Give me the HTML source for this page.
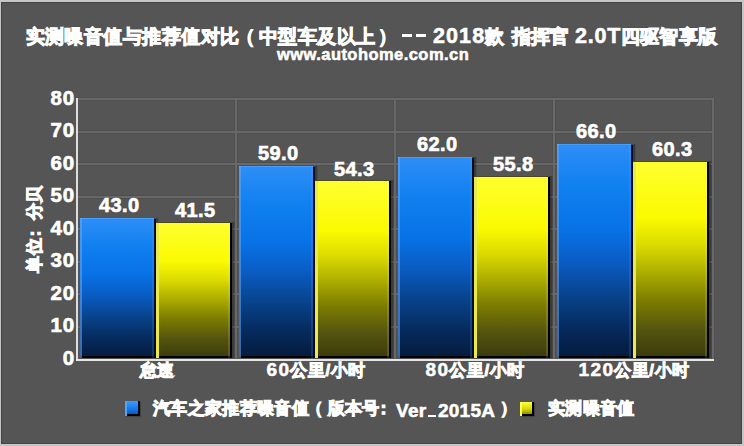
<!DOCTYPE html>
<html><head><meta charset="utf-8">
<style>
*{margin:0;padding:0;box-sizing:border-box}
html,body{width:744px;height:446px;overflow:hidden;background:#c6c6c6}
body{position:relative;font-family:"Liberation Sans",sans-serif;font-weight:bold;color:#fff}
.t,.yl,.val,.xl,#ytitle{text-shadow:0 0 1.5px rgba(0,0,0,.35)}
#panel{position:absolute;left:1px;top:2px;width:741px;height:442px;background:#555;
  box-shadow:inset 1px 1px 0 #444, inset -1px -1px 0 #444}
.t{position:absolute;white-space:nowrap;line-height:1;transform-origin:0 0}
.c{-webkit-text-stroke:1.05px #fff}
.l17{font-size:16.6px;letter-spacing:0.35px}
.c19{font-size:18.6px;letter-spacing:0.45px}
.dash{position:absolute;background:#fff;height:3px;top:34px;width:10px}
.gl{position:absolute;background:#686868}
.h{left:78px;width:635px;height:2px}
.v{top:98px;width:2px;height:261px}
.gs{position:absolute;background:#4f4f4f}
#yaxis{position:absolute;left:76px;top:98px;width:2px;height:263px;background:#dcdcdc}
#xaxis{position:absolute;left:76px;top:359px;width:638px;height:2px;background:#e6e6e6}
.yl{position:absolute;font-size:20.5px;left:0;width:75px;text-align:right;line-height:1;letter-spacing:0.8px;-webkit-text-stroke:0.7px #fff}
.bar{position:absolute;bottom:88px}
.b{background:linear-gradient(to bottom,#2e8ef6 0%,#1080f0 20%,#0872e6 40%,#0a5cc4 55%,#08448e 70%,#062c60 85%,#041a3c 100%);
  box-shadow:inset 0 1px 0 rgba(120,190,255,.35), inset 2px 0 0 rgba(100,170,255,.55), inset -2px 0 0 #020a20, inset -4px 0 0 rgba(90,170,255,.18), inset 0 -2px 0 #000, 2px 0 0 rgba(0,0,0,.22), 3px 0 0 rgba(0,0,0,.1)}
.y{background:linear-gradient(to bottom,#ffff30 0%,#fafa00 29%,#dada00 43%,#acac00 57%,#7c7c00 71%,#545410 86%,#3a3a0c 100%);
  box-shadow:inset 0 1px 0 #4a4a20, inset 3px 0 0 #eaea50, inset -2px 0 0 #000, inset -4px 0 0 rgba(255,255,120,.14), inset 0 -2px 0 #000, 2px 0 0 rgba(0,0,0,.22), 3px 0 0 rgba(0,0,0,.1)}
.val{position:absolute;font-size:20px;letter-spacing:0.4px;text-indent:0.4px;text-align:center;width:80px;line-height:1;-webkit-text-stroke:0.7px #fff}
.d{font-size:19px;letter-spacing:1.4px;-webkit-text-stroke:0.6px #fff;line-height:1px}
.xl{position:absolute;top:363px;font-size:16.8px;letter-spacing:0.5px;text-align:center;width:158px;line-height:1}
#ytitle{position:absolute;left:35.3px;top:229.2px;font-size:16.7px;letter-spacing:0.4px;transform:translate(-50%,-50%) rotate(-90deg);white-space:nowrap;line-height:1}
.lg{position:absolute;top:401px;width:15px;height:15px}
.lgb{background:linear-gradient(to bottom,#3a9cff 0%,#1a7ae8 50%,#0a4cb0 100%);box-shadow:inset 2px 0 0 #4aa6ff,inset -2px 0 0 #000820,inset 0 -2px 0 #000,1px 1px 1px rgba(0,0,0,.2)}
.lgy{background:linear-gradient(to bottom,#ffff40 0%,#d8d800 50%,#707000 100%);box-shadow:inset 2px 0 0 #ffff50,inset -2px 0 0 #000,inset 0 -2px 0 #000,1px 1px 1px rgba(0,0,0,.2)}
</style></head><body>
<div id="panel"></div>
<!-- title -->
<div class="t c c19" style="left:25.5px;top:27.5px">实测噪音值与推荐值对比</div>
<div class="t c c19" style="left:236.2px;top:27.5px">（</div>
<div class="t c c19" style="left:258.9px;top:27.5px">中型车及以上</div>
<div class="t c c19" style="left:377.8px;top:27.5px">）</div>
<div class="dash" style="left:401.7px"></div>
<div class="dash" style="left:415.7px"></div>
<div class="t" style="left:433px;top:26px;font-size:21.5px;letter-spacing:1.1px;-webkit-text-stroke:0.6px #fff">2018</div>
<div class="t c c19" style="left:485px;top:27.5px">款</div>
<div class="t c c19" style="left:511.5px;top:27.5px">指挥官</div>
<div class="t" style="left:575px;top:26px;font-size:21.5px;letter-spacing:0.8px;-webkit-text-stroke:0.6px #fff">2.0T</div>
<div class="t c c19" style="left:620.5px;top:27.5px">四驱智享版</div>
<div class="t" style="left:277px;top:46px;font-size:16.5px;letter-spacing:0.45px;-webkit-text-stroke:0.6px #fff">www.autohome.com.cn</div>

<div class="gs" style="left:78px;width:635px;top:97px;height:4px"></div>
<div class="gs" style="left:78px;width:635px;top:130px;height:4px"></div>
<div class="gs" style="left:78px;width:635px;top:162px;height:4px"></div>
<div class="gs" style="left:78px;width:635px;top:195px;height:4px"></div>
<div class="gs" style="left:78px;width:635px;top:227px;height:4px"></div>
<div class="gs" style="left:78px;width:635px;top:260px;height:4px"></div>
<div class="gs" style="left:78px;width:635px;top:292px;height:4px"></div>
<div class="gs" style="left:78px;width:635px;top:325px;height:4px"></div>
<div class="gs" style="top:98px;height:261px;left:234px;width:4px"></div>
<div class="gs" style="top:98px;height:261px;left:393px;width:4px"></div>
<div class="gs" style="top:98px;height:261px;left:552px;width:4px"></div>
<div class="gs" style="top:98px;height:261px;left:711px;width:4px"></div>
<div class="gl h" style="top:98px"></div>
<div class="gl h" style="top:131px"></div>
<div class="gl h" style="top:163px"></div>
<div class="gl h" style="top:196px"></div>
<div class="gl h" style="top:228px"></div>
<div class="gl h" style="top:261px"></div>
<div class="gl h" style="top:293px"></div>
<div class="gl h" style="top:326px"></div>
<div class="gl v" style="left:235px"></div>
<div class="gl v" style="left:394px"></div>
<div class="gl v" style="left:553px"></div>
<div class="gl v" style="left:712px"></div>
<div id="yaxis"></div>
<div id="xaxis"></div>

<div class="yl" style="top:87.5px">80</div>
<div class="yl" style="top:120px">70</div>
<div class="yl" style="top:152.5px">60</div>
<div class="yl" style="top:185px">50</div>
<div class="yl" style="top:217.5px">40</div>
<div class="yl" style="top:250px">30</div>
<div class="yl" style="top:282.5px">20</div>
<div class="yl" style="top:315px">10</div>
<div class="yl" style="top:347.5px">0</div>

<!-- bars -->
<div class="bar b" style="left:80px;width:76px;top:218px"></div>
<div class="bar y" style="left:156px;width:76px;top:222px"></div>
<div class="bar b" style="left:239px;width:76px;top:166px"></div>
<div class="bar y" style="left:315px;width:76px;top:180px"></div>
<div class="bar b" style="left:398px;width:76px;top:157px"></div>
<div class="bar y" style="left:474px;width:76px;top:176px"></div>
<div class="bar b" style="left:557px;width:76px;top:144px"></div>
<div class="bar y" style="left:633px;width:76px;top:161px"></div>
<div class="val" style="left:79px;top:195px">43.0</div>
<div class="val" style="left:155px;top:200px">41.5</div>
<div class="val" style="left:238px;top:143px">59.0</div>
<div class="val" style="left:314px;top:159px">54.3</div>
<div class="val" style="left:397px;top:134px">62.0</div>
<div class="val" style="left:473px;top:154px">55.8</div>
<div class="val" style="left:556px;top:121px">66.0</div>
<div class="val" style="left:632px;top:139px">60.3</div>
<div class="xl c" style="left:78px">怠速</div>
<div class="xl c" style="left:237px"><span class="d">60</span>公里/小时</div>
<div class="xl c" style="left:396px"><span class="d">80</span>公里/小时</div>
<div class="xl c" style="left:555px"><span class="d">120</span>公里/小时</div>

<div id="ytitle" class="c">单位<span style="position:relative;left:-4.7px">：</span>分贝</div>

<div class="lg lgb" style="left:124.5px"></div>
<div class="t c l17" style="left:153px;top:401px">汽车之家推荐噪音值</div>
<div class="t c l17" style="left:305.75px;top:401px">（</div>
<div class="t c l17" style="left:327.5px;top:401px">版本号</div>
<div class="t c l17" style="left:374.5px;top:401px">：</div>
<div class="t" style="left:396px;top:401px;font-size:19px;letter-spacing:0.3px;-webkit-text-stroke:0.6px #fff">Ver<span style="display:inline-block;width:8px;height:2.5px;background:#fff;margin:0 1.6px 0 1.8px;vertical-align:0"></span>2015A</div>
<div class="t c l17" style="left:499.5px;top:401px">）</div>
<div class="lg lgy" style="left:520px;top:402px;height:14px;width:14px"></div>
<div class="t c l17" style="left:548px;top:401px">实测噪音值</div>
</body></html>
